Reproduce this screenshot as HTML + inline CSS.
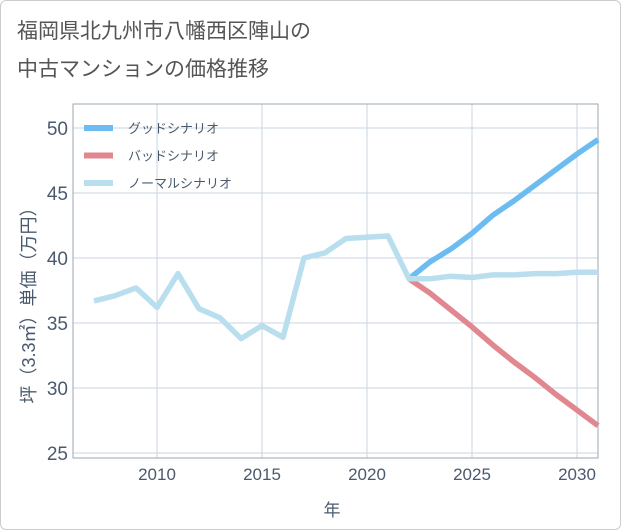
<!DOCTYPE html>
<html><head><meta charset="utf-8"><style>
body{margin:0;background:#fff;}
#wrap{position:relative;width:619px;height:528px;border:1px solid #ccc;border-radius:6px;background:#fff;font-family:"Liberation Sans","Noto Sans CJK JP",sans-serif;overflow:hidden}
#title{position:absolute;left:16px;top:12px;font-size:21px;line-height:38px;color:#555;}
svg{position:absolute;left:0;top:0}
</style></head><body>
<div id="wrap">
<div id="title">福岡県北九州市八幡西区陣山の<br>中古マンションの価格推移</div>
<svg id="c" width="621" height="530"></svg>
</div>
<script>
const years=[2007,2008,2009,2010,2011,2012,2013,2014,2015,2016,2017,2018,2019,2020,2021,2022,2023,2024,2025,2026,2027,2028,2029,2030,2031];
const normal=[36.7,37.1,37.7,36.2,38.8,36.1,35.4,33.8,34.8,33.9,40.0,40.4,41.5,41.6,41.7,38.4,38.4,38.6,38.5,38.7,38.7,38.8,38.8,38.9,38.9];
const goodYears=[2022,2023,2024,2025,2026,2027,2028,2029,2030,2031];
const good=[38.4,39.7,40.7,41.9,43.3,44.4,45.6,46.8,48.0,49.1];
const bad=[38.4,37.3,36.0,34.7,33.3,32.0,30.8,29.5,28.3,27.1];
const yTicks=[25,30,35,40,45,50];
const xTicks=[2010,2015,2020,2025,2030];
const L=72,R=597,T=103,B=457;
const xs=y=>156+(y-2010)*21;
const ys=v=>257-(v-40)*13;
const svg=document.getElementById('c');
const NS='http://www.w3.org/2000/svg';
function mk(t,a){const e=document.createElementNS(NS,t);for(const k in a)e.setAttribute(k,a[k]);svg.appendChild(e);return e;}
yTicks.forEach(v=>{
 const l=mk('line',{x1:L,x2:R,y1:ys(v),y2:ys(v),stroke:'#c8d6e2','stroke-width':1});
 
 
 const t=mk('text',{x:L-5,y:ys(v)+7,'text-anchor':'end','font-size':19,fill:'#4a5a6e'});
 t.textContent=v;
 
 
});
xTicks.forEach(v=>{
 const l=mk('line',{x1:xs(v),x2:xs(v),y1:T,y2:B,stroke:'#c8d6e2','stroke-width':1});
 
 
 const t=mk('text',{x:xs(v),y:B+22,'text-anchor':'middle','font-size':17,fill:'#4a5a6e'});
 t.textContent=v;
 
 
});
const fr=mk('rect',{x:L,y:T,width:R-L,height:B-T,fill:'none',stroke:'#9aa8b4','stroke-width':1});


function line(xa,va,col,name){
 const p=mk('polyline',{points:xa.map((x,i)=>xs(x)+','+ys(va[i])).join(' '),fill:'none',stroke:col,'stroke-width':5.5,'stroke-linejoin':'round'});
 
 
}
line(goodYears,bad,'#e0878f','bad-scenario-line');
line(goodYears,good,'#6cbcf2','good-scenario-line');
line(years,normal,'#b9dfee','normal-scenario-line');
const leg=[['グッドシナリオ','#6cbcf2'],['バッドシナリオ','#e0878f'],['ノーマルシナリオ','#b9dfee']];
leg.forEach((d,i)=>{
 const y=127+i*27.5;
 const r=mk('rect',{x:83,y:y-3,width:29,height:6,fill:d[1]});
 
 
 const t=mk('text',{x:127,y:y+5,'font-size':13,fill:'#4a5a6e'});
 t.textContent=d[0];
 
 
});
const yl=mk('text',{x:0,y:0,'text-anchor':'middle','font-size':18,fill:'#4a5a6e',transform:'translate(34,300) rotate(-90)'});
yl.textContent='坪（3.3㎡）単価（万円）';


const xl=mk('text',{x:331,y:515,'text-anchor':'middle','font-size':17,fill:'#4a5a6e'});
xl.textContent='年';


</script>
</body></html>
